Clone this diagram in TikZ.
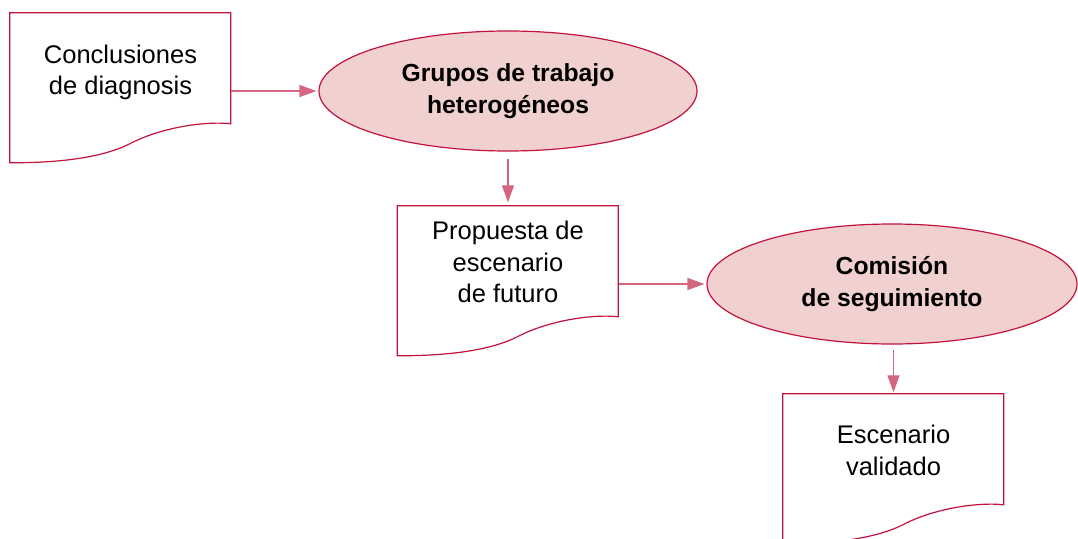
\documentclass[tikz,border=0pt]{standalone}
\usepackage{fontspec}
\setmainfont{Liberation Sans}
\usetikzlibrary{arrows.meta,shapes.geometric,calc}
\definecolor{bordercol}{HTML}{C4123F}
\definecolor{arrowcol}{HTML}{D4677F}
\definecolor{fillcol}{HTML}{F1D1CF}
\begin{document}
\begin{tikzpicture}[x=1pt,y=-1pt,
  docline/.style={draw=bordercol,line width=1.2pt,fill=white},
  docbox/.style={minimum width=221pt,minimum height=111pt,inner sep=0pt},
  doctext/.style={align=center,inner sep=0pt,font=\fontsize{25.5}{31.5}\selectfont},
  oval/.style={ellipse,draw=bordercol,fill=fillcol,line width=1.2pt,inner sep=0pt,align=center,font=\fontsize{24.7}{32.5}\selectfont\bfseries},
  arr/.style={draw=arrowcol,line width=1.2pt,-{Triangle[length=17pt,width=12pt]}},
  docshape/.pic={\path[docline] (0,150) -- (0,0) -- (221,0) -- (221,111) .. controls (195,108) and (150,115) .. (120,131) .. controls (90,146) and (45,150) .. cycle;}
]
\useasboundingbox (0,0) rectangle (1078,538);
\fill[white] (0,0) rectangle (1078,538);

% documents
\node[docbox] (d1) at (120.5,68.5) {};
\pic at (d1.north west) {docshape};
\node[doctext] (t1) at (120.5,72.4) {Conclusiones\\de diagnosis};

\node[docbox] (d2) at (508,261.5) {};
\pic at (d2.north west) {docshape};
\node[doctext] (t2) at (508,262) {Propuesta de\\escenario\\de futuro};

\node[docbox] (d3) at (893.5,449.5) {};
\pic at (d3.north west) {docshape};
\node[doctext] (t3) at (893.5,450.5) {Escenario\\validado};

% ellipses
\node[oval,minimum width=378pt,minimum height=120pt] (e1) at (508,91) {Grupos de trabajo\\heterogéneos};
\node[oval,minimum width=370pt,minimum height=120pt] (e2) at (892,284) {Comisión\\de seguimiento};

% connectors
\draw[arr,shorten >=2pt] (d1.east |- e1.west) -- (e1.west);
\draw[arr,shorten <=7.5pt,shorten >=3.5pt] (e1.south -| d2.north) -- (d2.north);
\draw[arr,shorten >=2pt] (d2.east |- e2.west) -- (e2.west);
\draw[arr,shorten <=5pt,shorten >=1.5pt] (e2.south -| d3.north) -- (d3.north);
\end{tikzpicture}
\end{document}
